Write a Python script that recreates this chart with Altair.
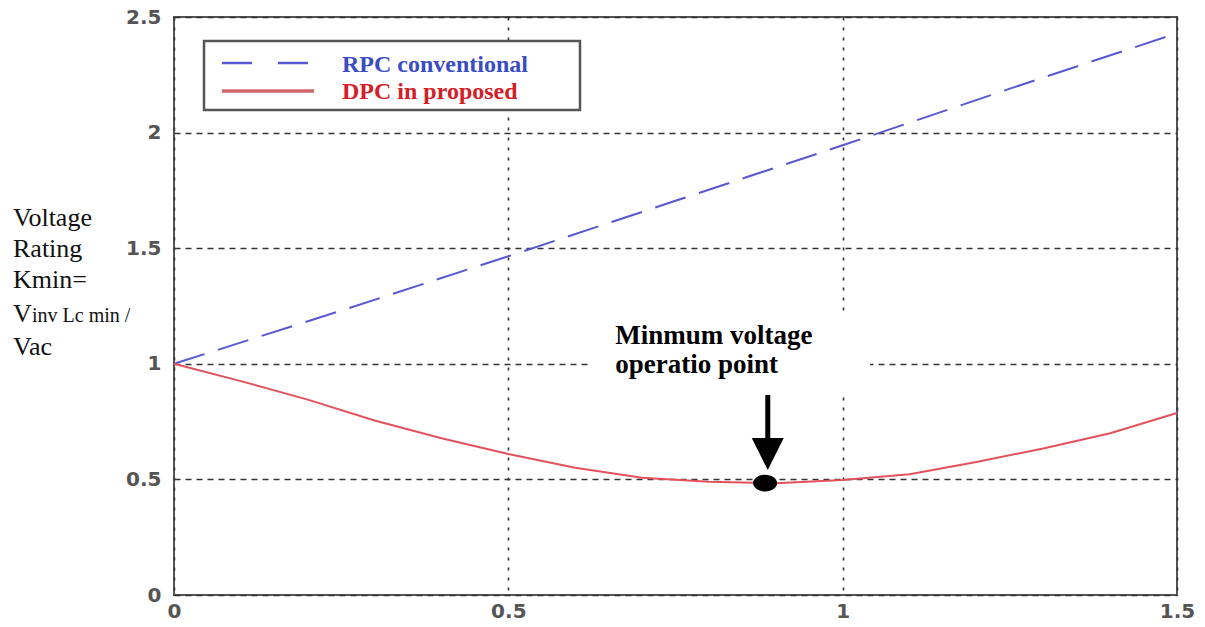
import altair as alt
import pandas as pd

# Ratio axis (x) and the two voltage-rating curves
x_rpc = [0.0, 0.25, 0.5, 0.75, 1.0, 1.25, 1.5]
k_rpc = [1.0, 1.23, 1.465, 1.705, 1.945, 2.19, 2.43]

x_dpc = [0.0, 0.1, 0.2, 0.3, 0.4, 0.5, 0.6, 0.7, 0.8, 0.9, 1.0, 1.1, 1.2, 1.3, 1.4, 1.5]
k_dpc = [1.0, 0.925, 0.845, 0.755, 0.678, 0.61, 0.55, 0.507, 0.49, 0.483, 0.497, 0.522, 0.575, 0.634, 0.70, 0.787]

x_ticks = [0, 0.5, 1, 1.5]
y_ticks = [0, 0.5, 1, 1.5, 2, 2.5]

# Minimum operating point and its callout
min_point = {"x": 0.884, "k": 0.484}
callout_lines = ["Minmum voltage", "operatio point"]

legend_labels = ["RPC conventional", "DPC in proposed"]
y_title_lines = ["Voltage", "Rating", "Kmin=", "V", "Vac"]

BLUE = "#5858d4"
RED = "#e2525c"

W, H = 1003, 578

rpc = pd.DataFrame({"x": x_rpc, "k": k_rpc})
dpc = pd.DataFrame({"x": x_dpc, "k": k_dpc})

xs = alt.Scale(domain=[0, 1.5], nice=False, zero=False)
ys = alt.Scale(domain=[0, 2.5], nice=False, zero=False)

x_axis = alt.Axis(values=x_ticks, format="~g", title=None, domain=False, ticks=False,
                  grid=True, gridDash=[3, 7], gridColor="#333", gridWidth=1.6,
                  labelFont="DejaVu Sans", labelFontWeight="bold", labelFontSize=20,
                  labelColor="#555", labelPadding=6, labelFlush=False, labelOverlap=False)
y_axis = alt.Axis(values=y_ticks, format="~g", title=None, domain=False, ticks=False,
                  grid=True, gridDash=[6, 5], gridColor="#333", gridWidth=1.6,
                  labelFont="DejaVu Sans", labelFontWeight="bold", labelFontSize=20,
                  labelColor="#555", labelPadding=13, labelFlush=False, labelOverlap=False)

blue_line = alt.Chart(rpc).mark_line(color=BLUE, strokeWidth=2, strokeDash=[32, 14]).encode(
    x=alt.X("x:Q", scale=xs, axis=x_axis),
    y=alt.Y("k:Q", scale=ys, axis=y_axis),
)

red_line = alt.Chart(dpc).mark_line(color=RED, strokeWidth=2).encode(
    x=alt.X("x:Q", scale=xs),
    y=alt.Y("k:Q", scale=ys),
)

# White backing behind the callout text (hides the grid there)
one = alt.Data(values=[{}])
callout_bg = alt.Chart(one).mark_rect(color="white").encode(
    x=alt.datum(0.622, scale=xs), x2=alt.datum(1.041),
    y=alt.datum(1.224, scale=ys), y2=alt.datum(0.865),
)

callout_df = pd.DataFrame({"x": [0.66, 0.66], "k": [1.086, 0.96], "t": callout_lines})
callout = alt.Chart(callout_df).mark_text(
    font="Liberation Serif", fontWeight="bold", fontSize=27, color="black",
    align="left", baseline="alphabetic",
).encode(x=alt.X("x:Q", scale=xs), y=alt.Y("k:Q", scale=ys), text="t:N")

shaft = alt.Chart(one).mark_rule(color="black", strokeWidth=5).encode(
    x=alt.datum(min_point["x"] + 0.004, scale=xs),
    y=alt.datum(0.865, scale=ys), y2=alt.datum(0.66),
)
head = alt.Chart(one).mark_point(
    shape="M-1,-1L1,-1L0,1Z", filled=True, color="black", opacity=1, size=1024,
).encode(x=alt.datum(min_point["x"] + 0.004, scale=xs), y=alt.datum(0.61, scale=ys))

dot = alt.Chart(pd.DataFrame([min_point])).mark_point(
    shape="M-1,0A1,0.7,0,1,1,1,0A1,0.7,0,1,1,-1,0Z", filled=True, color="black",
    opacity=1, size=576,
).encode(x=alt.X("x:Q", scale=xs), y=alt.Y("k:Q", scale=ys))

# Legend box, drawn in pixel space inside the plot
legend_box = alt.Chart(one).mark_rect(fill="white", stroke="#555", strokeWidth=2.5).encode(
    x=alt.value(30), x2=alt.value(406), y=alt.value(24), y2=alt.value(93),
)
legend_blue = alt.Chart(one).mark_rule(color=BLUE, strokeWidth=2.5, strokeDash=[30, 26]).encode(
    x=alt.value(48), x2=alt.value(140), y=alt.value(46),
)
legend_red = alt.Chart(one).mark_rule(color="#d0666c", strokeWidth=3.5).encode(
    x=alt.value(48), x2=alt.value(140), y=alt.value(74),
)
legend_txt1 = alt.Chart(one).mark_text(
    font="Liberation Serif", fontWeight="bold", fontSize=24, color="#3a4cc2",
    align="left", baseline="alphabetic",
).encode(x=alt.value(168), y=alt.value(55), text=alt.value(legend_labels[0]))
legend_txt2 = alt.Chart(one).mark_text(
    font="Liberation Serif", fontWeight="bold", fontSize=24, color="#d42028",
    align="left", baseline="alphabetic",
).encode(x=alt.value(168), y=alt.value(82), text=alt.value(legend_labels[1]))

# Multi-line y-axis title at the left
title_y = [209, 240, 271, 305, 338]
title_layers = []
for line, yy in zip(y_title_lines, title_y):
    title_layers.append(
        alt.Chart(one).mark_text(
            font="Liberation Serif", fontSize=26, color="#111",
            align="left", baseline="alphabetic",
        ).encode(x=alt.value(-161), y=alt.value(yy), text=alt.value(line))
    )
title_layers.append(
    alt.Chart(one).mark_text(
        font="Liberation Serif", fontSize=20, color="#111",
        align="left", baseline="alphabetic",
    ).encode(x=alt.value(-142), y=alt.value(305), text=alt.value("inv Lc min /"))
)

chart = alt.layer(
    blue_line, callout_bg, red_line, callout, shaft, head, dot,
    legend_box, legend_blue, legend_red, legend_txt1, legend_txt2,
    *title_layers,
).properties(
    width=W, height=H,
    padding={"left": 174, "top": 17, "right": 28, "bottom": 32},
    autosize=alt.AutoSizeParams(type="none"),
    background="white",
).configure_view(stroke="#555", strokeWidth=2)

chart.save("out.html", embed_options={"renderer": "svg", "actions": False})
